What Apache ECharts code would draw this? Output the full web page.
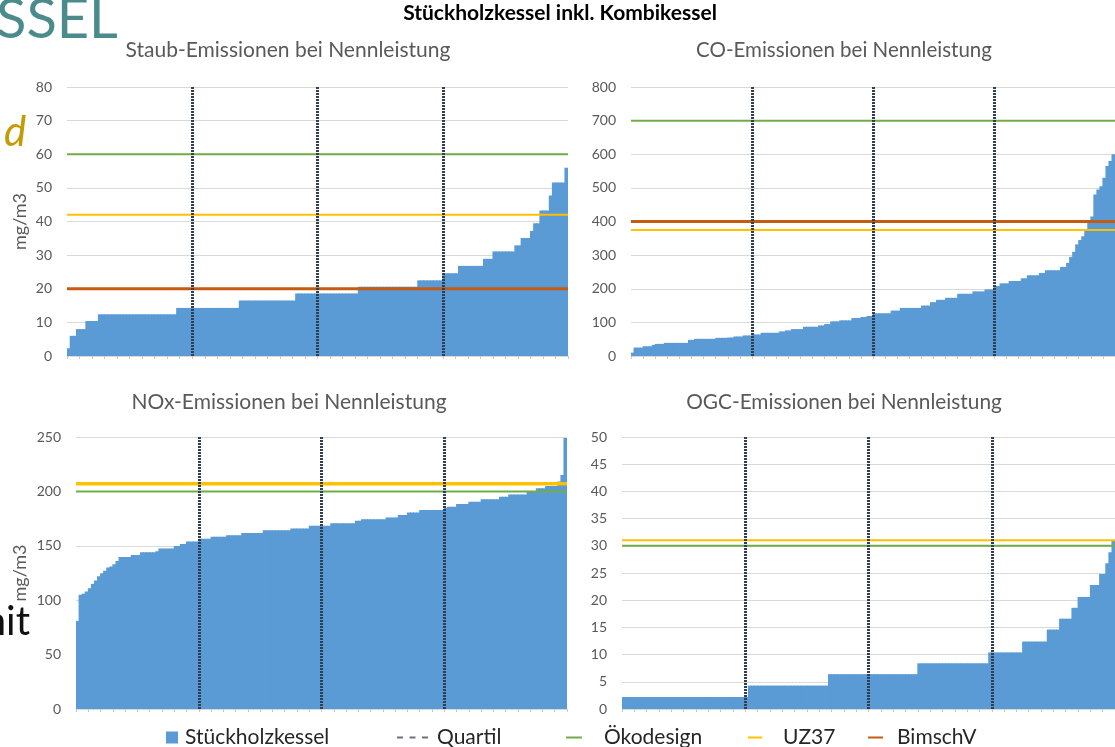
<!DOCTYPE html>
<html><head><meta charset="utf-8">
<script src="https://cdn.jsdelivr.net/npm/echarts@6/dist/echarts.min.js"></script>
<style>html,body{margin:0;padding:0;background:#fff;overflow:hidden}#c{width:1115px;height:747px}</style>
</head><body><div id="c"></div>
<script>
const staubValues = [
  2.3, 6, 6, 8, 8, 8, 10.4, 10.4, 10.4, 10.4,
  12.4, 12.4, 12.4, 12.4, 12.4, 12.4, 12.4, 12.4, 12.4, 12.4,
  12.4, 12.4, 12.4, 12.4, 12.4, 12.4, 12.4, 12.4, 12.4, 12.4,
  12.4, 12.4, 12.4, 12.4, 12.4, 14.3, 14.3, 14.3, 14.3, 14.3,
  14.3, 14.3, 14.3, 14.3, 14.3, 14.3, 14.3, 14.3, 14.3, 14.3,
  14.3, 14.3, 14.3, 14.3, 14.3, 16.5, 16.5, 16.5, 16.5, 16.5,
  16.5, 16.5, 16.5, 16.5, 16.5, 16.5, 16.5, 16.5, 16.5, 16.5,
  16.5, 16.5, 16.5, 18.6, 18.6, 18.6, 18.6, 18.6, 18.6, 18.6,
  18.6, 18.6, 18.6, 18.6, 18.6, 18.6, 18.6, 18.6, 18.6, 18.6,
  18.6, 18.6, 18.6, 20.6, 20.6, 20.6, 20.6, 20.6, 20.6, 20.6,
  20.6, 20.6, 20.6, 20.6, 20.6, 20.6, 20.6, 20.6, 20.6, 20.6,
  20.6, 20.6, 22.5, 22.5, 22.5, 22.5, 22.5, 22.5, 22.5, 22.5,
  24.6, 24.6, 24.6, 24.6, 24.6, 26.8, 26.8, 26.8, 26.8, 26.8,
  26.8, 26.8, 26.8, 28.9, 28.9, 28.9, 31.1, 31.1, 31.1, 31.1,
  31.1, 31.1, 31.1, 32.9, 32.9, 35.1, 35.1, 35.1, 37.2, 39.5,
  39.5, 43.3, 43.3, 43.3, 47.7, 51.6, 51.6, 51.6, 51.6, 56
];
const coValues = [
  10, 25, 25, 25, 29, 29, 29, 33, 36, 36,
  36, 39, 39, 39, 39, 39, 39, 39, 39, 48,
  48, 51, 51, 51, 51, 51, 51, 51, 54, 54,
  54, 54, 55, 55, 58, 58, 58, 61, 61, 61,
  64, 64, 64, 69, 69, 69, 69, 69, 69, 73,
  73, 76, 76, 80, 80, 80, 80, 87, 87, 87,
  87, 87, 91, 91, 95, 95, 103, 103, 103, 106,
  106, 106, 106, 113, 113, 113, 116, 116, 119, 119,
  127, 127, 127, 127, 127, 127, 135, 135, 135, 143,
  143, 143, 143, 143, 143, 143, 150, 150, 150, 160,
  160, 167, 167, 167, 173, 173, 173, 173, 185, 185,
  185, 185, 185, 192, 192, 192, 192, 198, 198, 198,
  208, 208, 216, 216, 216, 223, 223, 223, 223, 231,
  231, 240, 240, 240, 240, 247, 247, 255, 255, 255,
  255, 255, 265, 265, 277, 295, 310, 332, 345, 356,
  376, 400, 415, 480, 495, 505, 530, 565, 580, 600
];
const noxValues = [
  81, 105, 106, 108, 111, 115, 118, 122, 124.7, 127,
  130, 131, 133, 136, 139.7, 139.7, 139.7, 139.7, 141.5, 141.5,
  141.5, 144, 144, 144, 144, 144, 145, 147.5, 147.5, 147.5,
  147.5, 147.5, 149.8, 149.8, 151.6, 151.6, 154, 154, 154, 154,
  156.5, 156.5, 156.5, 156.5, 158.4, 158.4, 158.4, 158.4, 158.4, 159.6,
  159.6, 159.6, 159.6, 159.6, 161.8, 161.8, 161.8, 161.8, 161.8, 161.8,
  161.8, 164.2, 164.2, 164.2, 164.2, 164.2, 164.2, 164.2, 164.2, 164.2,
  166, 166, 166, 166, 166, 166, 168.5, 168.5, 168.5, 168.5,
  168.5, 168.5, 168.5, 170.7, 170.7, 170.7, 170.7, 170.7, 170.7, 170.7,
  170.7, 173, 173, 174.3, 174.3, 174.3, 174.3, 174.3, 174.3, 174.3,
  174.3, 176, 176, 176, 176, 178.3, 178.3, 178.3, 180.7, 180.7,
  180.7, 180.7, 182.9, 182.9, 182.9, 182.9, 182.9, 182.9, 182.9, 182.9,
  185, 186, 186, 186, 188.4, 188.4, 188.4, 188.4, 190.5, 190.5,
  190.5, 190.5, 192.7, 192.7, 192.7, 192.7, 192.7, 192.7, 195, 195,
  195, 197.2, 197.2, 197.2, 197.2, 197.2, 197.2, 199.7, 199.7, 199.7,
  202.8, 202.8, 202.8, 205, 205, 205, 205, 209, 215, 249
];
const ogcValues = [
  2.2, 2.2, 2.2, 2.2, 2.2, 2.2, 2.2, 2.2, 2.2, 2.2,
  2.2, 2.2, 2.2, 2.2, 2.2, 2.2, 2.2, 2.2, 2.2, 2.2,
  2.2, 2.2, 2.2, 2.2, 2.2, 2.2, 2.2, 2.2, 2.2, 2.2,
  2.2, 2.2, 2.2, 2.2, 2.2, 2.2, 2.2, 2.2, 2.2, 2.2,
  2.2, 4.3, 4.3, 4.3, 4.3, 4.3, 4.3, 4.3, 4.3, 4.3,
  4.3, 4.3, 4.3, 4.3, 4.3, 4.3, 4.3, 4.3, 4.3, 4.3,
  4.3, 4.3, 4.3, 4.3, 4.3, 4.3, 4.3, 6.4, 6.4, 6.4,
  6.4, 6.4, 6.4, 6.4, 6.4, 6.4, 6.4, 6.4, 6.4, 6.4,
  6.4, 6.4, 6.4, 6.4, 6.4, 6.4, 6.4, 6.4, 6.4, 6.4,
  6.4, 6.4, 6.4, 6.4, 6.4, 6.4, 8.4, 8.4, 8.4, 8.4,
  8.4, 8.4, 8.4, 8.4, 8.4, 8.4, 8.4, 8.4, 8.4, 8.4,
  8.4, 8.4, 8.4, 8.4, 8.4, 8.4, 8.4, 8.4, 8.4, 10.4,
  10.4, 10.4, 10.4, 10.4, 10.4, 10.4, 10.4, 10.4, 10.4, 10.4,
  12.4, 12.4, 12.4, 12.4, 12.4, 12.4, 12.4, 12.4, 14.6, 14.6,
  14.6, 14.6, 16.6, 16.6, 16.6, 16.6, 18.6, 18.6, 20.6, 20.6,
  20.6, 20.6, 22.8, 22.8, 22.8, 24.8, 24.8, 26.8, 28.8, 31
];
const panelTitles = ['Staub-Emissionen bei Nennleistung', 'CO-Emissionen bei Nennleistung',
                     'NOx-Emissionen bei Nennleistung', 'OGC-Emissionen bei Nennleistung'];
const yMax = [80, 800, 250, 50];
const yStep = [10, 100, 50, 5];
const yNames = ['mg/m3', '', 'mg/m3', ''];
const quartileIdx = [40, 80, 120];
const oekodesign = [60, 700, 200, 30];
const uz37 = [42, 375, 207, 31];
const bimschV = [20, 400, null, null];
const legendNames = ['Stückholzkessel', 'Quartil', 'Ökodesign', 'UZ37', 'BimschV'];
const mainTitle = 'Stückholzkessel inkl. Kombikessel';

// ---- layout / styles ----
const values = [staubValues, coValues, noxValues, ogcValues];
const grids = [
  {left: 67, top: 87, width: 501, height: 269},
  {left: 631, top: 87, width: 492, height: 269},
  {left: 76, top: 437, width: 491, height: 272},
  {left: 622, top: 437, width: 500, height: 272}
];
const titleLayout = [
  {x: 288, top: 40, size: 21}, {x: 844, top: 40, size: 20.5},
  {x: 289, top: 392, size: 21}, {x: 844, top: 392, size: 20.8}
];
const nameGaps = [38, 0, 47, 0];
const FONT = 'Lato';
const C_BAR = '#5b9bd5', C_GREEN = '#70ad47', C_YELLOW = '#ffc000', C_ORANGE = '#c55a11', C_Q = '#323e52';
const C_GRID = '#d9d9d9', C_TXT = '#595959';

const xAxis = [], yAxis = [], series = [], title = [];
title.push({text: mainTitle, left: 560, top: 3, textAlign: 'center', padding: 0,
  textStyle: {fontFamily: FONT, fontSize: 21, fontWeight: 'bold', color: '#000'}});
grids.forEach((g, i) => {
  const t = titleLayout[i];
  title.push({text: panelTitles[i], left: t.x, top: t.top, textAlign: 'center', padding: 0,
    textStyle: {fontFamily: FONT, fontSize: t.size, fontWeight: 'normal', color: C_TXT}});
  xAxis.push({type: 'category', gridIndex: i, data: values[i].map((v, k) => String(k + 1)),
    boundaryGap: true,
    axisLine: {show: true, lineStyle: {color: C_GRID, width: 1}},
    axisTick: {show: true, interval: 3, length: 3, lineStyle: {color: '#c8c8c8'}},
    axisLabel: {show: false}, splitLine: {show: false}});
  yAxis.push({type: 'value', gridIndex: i, min: 0, max: yMax[i], interval: yStep[i],
    name: yNames[i], nameLocation: 'middle', nameGap: nameGaps[i], nameRotate: 90,
    nameTextStyle: {fontFamily: FONT, fontSize: 18, color: C_TXT},
    axisLine: {show: false}, axisTick: {show: false},
    axisLabel: {fontFamily: FONT, fontSize: 14, color: C_TXT, margin: 15},
    splitLine: {show: true, lineStyle: {color: C_GRID, width: 1}}});
});
grids.forEach((g, i) => {
  xAxis.push({type: 'value', gridIndex: i, min: 0, max: values[i].length, show: false, position: 'top'});
});
grids.forEach((g, i) => {
  const N = values[i].length;
  const xi = 4 + i;
  series.push({name: 'Stückholzkessel', type: 'bar', xAxisIndex: i, yAxisIndex: i, data: values[i],
    barWidth: 4, barGap: '0%', z: 2,
    itemStyle: {color: C_BAR}});
  const hl = (name, v, color, width, z) => {
    if (v === null) return;
    series.push({name, type: 'line', xAxisIndex: xi, yAxisIndex: i,
      data: [[0, v], [N, v]], symbol: 'none', z,
      itemStyle: {color}, lineStyle: {color, width}});
  };
  hl('Ökodesign', oekodesign[i], C_GREEN, 2, 4);
  hl('UZ37', uz37[i], C_YELLOW, i === 2 ? 3.5 : 2, 4);
  hl('BimschV', bimschV[i], C_ORANGE, 3, 4);
  series.push({name: 'Quartil', type: 'line', xAxisIndex: xi, yAxisIndex: i, data: [], z: 6,
    itemStyle: {color: C_Q}, lineStyle: {color: C_Q},
    markLine: {silent: true, symbol: ['none', 'none'], label: {show: false}, z: 6,
      lineStyle: {color: C_Q, width: 3, type: [2, 1]},
      data: quartileIdx.map(q => ({xAxis: q}))}});
});

const lineIcon = 'path://M0 0H10V1H0Z';
const legendSpec = [
  {name: legendNames[0], left: 166, icon: 'rect', w: 12, h: 12, pad: 2},
  {name: legendNames[1], left: 397, icon: 'path://M0 0H6V1H0Z M12.5 0H18.5V1H12.5Z M25 0H31V1H25Z', w: 31, h: 2, pad: 4, color: '#6b7280'},
  {name: legendNames[2], left: 566, icon: lineIcon, w: 16, h: 2, pad: 17},
  {name: legendNames[3], left: 748, icon: lineIcon, w: 14, h: 2, pad: 16},
  {name: legendNames[4], left: 868, icon: lineIcon, w: 15, h: 2, pad: 9}
];
const legend = legendSpec.map(s => ({
  data: [Object.assign({name: s.name, icon: s.icon}, s.color ? {itemStyle: {color: s.color}} : {})],
  left: s.left, top: 727, padding: 0, itemWidth: s.w, itemHeight: s.h,
  symbolKeepAspect: false, selectedMode: false,
  itemStyle: {borderWidth: 0},
  textStyle: {fontFamily: FONT, fontSize: 21, color: '#262626', padding: [0, 0, 0, s.pad]}
}));

const graphic = [
  {type: 'text', left: -4, top: -8, z: 0, style: {text: 'SSEL', font: '56px Lato', fill: '#4a8b8c'}},
  {type: 'text', left: 4, top: 111, z: 0, style: {text: 'd', font: 'italic 42px Lato', fill: '#c49b00'}},
  {type: 'text', right: 1085, top: 602, z: 0, style: {text: 'mit', font: '40px Lato', fill: '#111'}}
];

const chart = echarts.init(document.getElementById('c'), null, {renderer: 'canvas'});
chart.setOption({
  animation: false,
  backgroundColor: '#fff',
  textStyle: {fontFamily: FONT},
  title, legend, grid: grids.map(g => Object.assign({containLabel: false}, g)),
  xAxis, yAxis, series, graphic
});
</script></body></html>
